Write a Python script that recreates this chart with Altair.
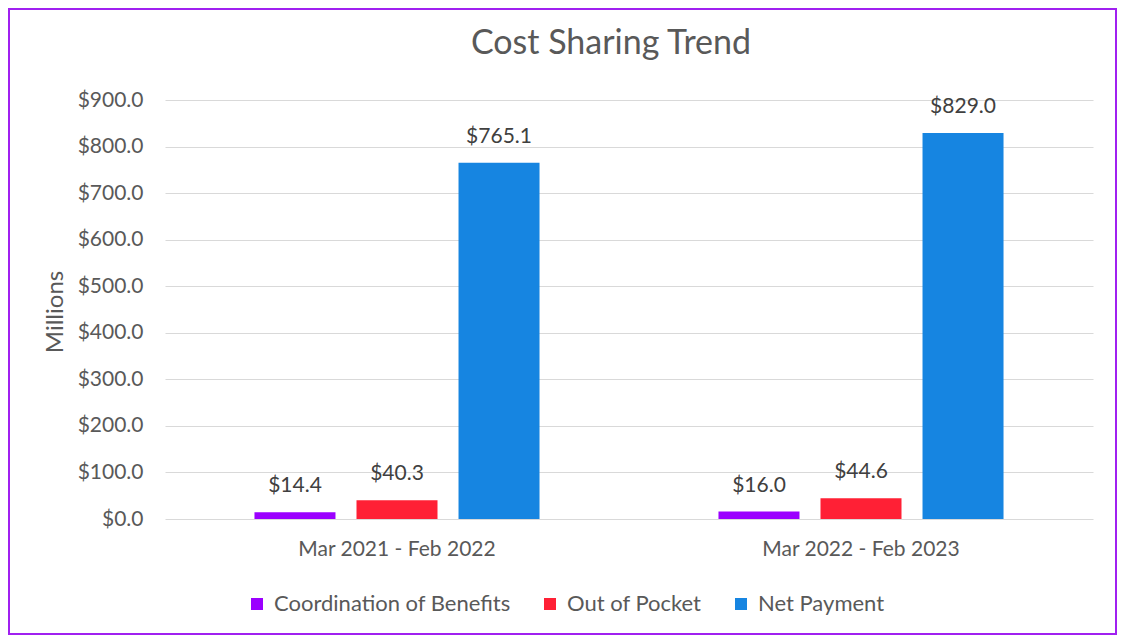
import altair as alt
import pandas as pd

periods = ["Mar 2021 - Feb 2022", "Mar 2022 - Feb 2023"]
series = ["Coordination of Benefits", "Out of Pocket", "Net Payment"]
cob = [14.4, 16.0]
oop = [40.3, 44.6]
net = [765.1, 829.0]
colors = ["#9B00FF", "#FF2035", "#1685E1"]

rows = []
for i, p in enumerate(periods):
    for s, vals in zip(series, [cob, oop, net]):
        rows.append({"period": p, "series": s, "value": vals[i]})
df = pd.DataFrame(rows)

FONT = "Lato"
GREY = "#595959"
W, H = 928, 419

base = alt.Chart(df).encode(
    x=alt.X("period:N", sort=periods,
            scale=alt.Scale(paddingInner=0, paddingOuter=0),
            axis=alt.Axis(title=None, labelAngle=0, ticks=False, domain=False, grid=False,
                          labelPadding=19, labelFontSize=21, labelColor=GREY, labelFont=FONT,
                          labelLimit=400)),
    xOffset=alt.XOffset("series:N", sort=series,
                        scale=alt.Scale(paddingInner=0.206, paddingOuter=0.877)),
)

bars = base.mark_bar().encode(
    y=alt.Y("value:Q", scale=alt.Scale(domain=[0, 900]),
            axis=alt.Axis(values=list(range(0, 1000, 100)), format="$.1f", ticks=False, domain=False,
                          labelPadding=22, labelFontSize=21, labelColor=GREY, labelFont=FONT,
                          gridColor="#D9D9D9", gridWidth=1,
                          title="Millions", titleFontSize=24, titleColor=GREY, titleFont=FONT,
                          titleFontWeight="normal", titleAngle=-90, titleX=-110, titleY=H / 2 + 2,
                          titleAlign="center", titleBaseline="middle")),
    color=alt.Color("series:N", sort=series, scale=alt.Scale(domain=series, range=colors),
                    legend=alt.Legend(title=None, orient="none", legendX=81, legendY=493,
                                      direction="horizontal", symbolType="square", symbolSize=144,
                                      symbolStrokeWidth=0, labelFontSize=22, labelColor=GREY,
                                      labelFont=FONT, columnPadding=28, labelOffset=6, labelLimit=400)),
)

labels = base.mark_text(dy=-26, baseline="middle", fontSize=21, color="#404040", font=FONT).encode(
    y=alt.Y("value:Q"),
    text=alt.Text("value:Q", format="$.1f"),
)

border = alt.Chart(pd.DataFrame({"k": [0]})).mark_rect(
    fillOpacity=0, stroke="#A020F0", strokeWidth=2
).encode(x=alt.value(-156), x2=alt.value(951), y=alt.value(-91), y2=alt.value(534))

chart = alt.layer(border, bars, labels).properties(
    width=W, height=H,
    title=alt.TitleParams("Cost Sharing Trend", fontSize=34, color=GREY, font=FONT,
                          fontWeight="normal", anchor="middle", frame="group", dx=-18,
                          baseline="alphabetic", offset=-80),
    padding={"left": 157, "top": 92, "right": 24, "bottom": 116},
    autosize=alt.AutoSizeParams(type="none"),
).configure_view(stroke=None)

chart.save("out.html", embed_options={"renderer": "svg", "actions": False})
